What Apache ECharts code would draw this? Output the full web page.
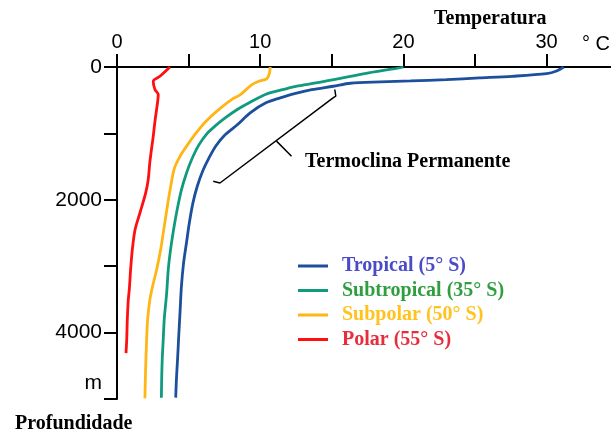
<!DOCTYPE html>
<html>
<head>
<meta charset="utf-8">
<script src="https://cdn.jsdelivr.net/npm/echarts@6/dist/echarts.min.js"></script>
<style>
  html, body { margin: 0; padding: 0; background: #fff; }
  #chart { width: 611px; height: 432px; }
</style>
</head>
<body>
<div id="chart"></div>
<script>
// perfis de temperatura: [temperatura °C, profundidade m]
var tropical = [[31.2,0],[30.7,60],[30,100],[27.6,140],[25.3,165],[23,190],[20.5,210],[18.4,225],[16.3,245],
  [15.1,290],[13.6,340],[12.4,400],[11.4,465],[10.4,540],[9.3,690],[8.4,870],[7.5,1030],[6.9,1190],[6.4,1380],
  [6.0,1560],[5.6,1800],[5.3,2050],[5.05,2350],[4.85,2650],[4.65,2950],[4.5,3300],[4.4,3700],[4.3,4100],
  [4.23,4400],[4.15,4700],[4.1,4980]];
var subtropical = [[20,0],[19.3,30],[17.4,95],[15.6,170],[13.9,240],[12.5,290],[11.3,355],[10.4,410],[9.3,530],
  [8.4,640],[7.6,760],[6.9,880],[6.3,1000],[5.7,1180],[5.2,1400],[4.85,1600],[4.5,1850],[4.2,2150],[3.95,2450],
  [3.74,2750],[3.58,3050],[3.47,3400],[3.3,3800],[3.23,4100],[3.16,4400],[3.12,4700],[3.1,4980]];
var subpolar = [[10.7,0],[10.65,90],[10.45,180],[9.9,215],[9.4,270],[8.6,420],[8.0,490],[7.0,660],[6.2,820],
  [5.5,1000],[4.9,1180],[4.4,1345],[4.0,1530],[3.75,1800],[3.55,2050],[3.3,2400],[3.05,2750],[2.77,3050],
  [2.49,3300],[2.3,3500],[2.14,3800],[2.07,4100],[2.02,4400],[1.98,4700],[1.95,4990]];
var polar = [[3.7,0],[3.0,139],[2.53,214],[2.65,339],[2.88,415],[2.84,520],[2.65,820],[2.53,1044],[2.3,1420],
  [2.18,1697],[2.0,1900],[1.6,2199],[1.26,2450],[1.07,2750],[0.95,3050],[0.86,3350],[0.79,3500],[0.72,3800],
  [0.68,4100],[0.63,4310]];

// chave da termoclina
var chave = [[15.21,339],[15.28,440],[15.09,465],[7.19,1747],[6.72,1722]];
var chaveTraco = [[11.14,1116],[12.19,1345]];

var nomes = ['Tropical (5° S)', 'Subtropical (35° S)', 'Subpolar (50° S)', 'Polar (55° S)'];
var coresLinha = ['#1c4f9c', '#109a7e', '#ffb515', '#ff1010'];
var coresTexto = ['#4b4bc8', '#2e9e3e', '#ffc21f', '#e82c3c'];
var xTicks = [0, 5, 10, 15, 20, 25, 30];
var xLabels = [0, 10, 20, 30];

var serif = '"Liberation Serif", "Times New Roman", serif';
var sans = '"Liberation Sans", Arial, sans-serif';

var myChart = echarts.init(document.getElementById('chart'));

function perfil(nome, dados, cor) {
    return {
        name: nome,
        type: 'line',
        data: dados,
        showSymbol: false,
        symbol: 'none',
        smooth: 0.3,
        lineStyle: { color: cor, width: 2.8 },
        itemStyle: { color: cor },
        silent: true,
        z: 3
    };
}

function linhaPreta(dados) {
    return {
        type: 'line',
        data: dados,
        showSymbol: false,
        symbol: 'none',
        lineStyle: { color: '#000', width: 1.5 },
        silent: true,
        z: 2
    };
}

var option = {
    animation: false,
    title: [
        { text: 'Temperatura', left: 429, top: 4, textStyle: { fontFamily: serif, fontWeight: 'bold', fontSize: 20, color: '#000' } },
        { text: '° C', left: 577, top: 29, textStyle: { fontFamily: sans, fontWeight: 'normal', fontSize: 20, color: '#000' } },
        { text: 'Profundidade', left: 10, top: 409, textStyle: { fontFamily: serif, fontWeight: 'bold', fontSize: 20, color: '#000' } },
        { text: 'Termoclina Permanente', left: 300, top: 147, textStyle: { fontFamily: serif, fontWeight: 'bold', fontSize: 20, color: '#000' } }
    ],
    legend: {
        orient: 'vertical',
        left: 293,
        top: 251,
        itemWidth: 30,
        itemHeight: 3,
        itemGap: 4.5,
        icon: 'rect',
        selectedMode: false,
        textStyle: { fontFamily: serif, fontWeight: 'bold', fontSize: 20, padding: [0, 0, 0, 9] },
        data: nomes.map(function (n, i) {
            return { name: n, textStyle: { color: coresTexto[i] } };
        })
    },
    grid: { left: 117, top: 67, right: 0, bottom: 33, containLabel: false },
    xAxis: {
        type: 'value',
        position: 'top',
        min: 0,
        max: 34.5,
        splitLine: { show: false },
        axisLine: { lineStyle: { color: '#000', width: 2 } },
        axisTick: { show: true, length: 13, customValues: xTicks, lineStyle: { color: '#000', width: 2 } },
        axisLabel: { customValues: xLabels, margin: 15, fontFamily: sans, fontSize: 20, color: '#000' }
    },
    yAxis: {
        type: 'value',
        inverse: true,
        min: 0,
        max: 5000,
        interval: 1000,
        splitLine: { show: false },
        axisLine: { show: true, lineStyle: { color: '#000', width: 2 } },
        axisTick: { show: true, length: 13, lineStyle: { color: '#000', width: 2 } },
        axisLabel: {
            margin: 15,
            fontFamily: sans,
            fontSize: 21,
            color: '#000',
            showMaxLabel: true,
            formatter: function (v) {
                if (v === 5000) return '{m|m}';
                return v % 2000 === 0 ? String(v) : '';
            },
            rich: {
                m: { fontFamily: sans, fontSize: 21, color: '#000', padding: [0, 0, 32, 0] }
            }
        }
    },
    series: [
        perfil(nomes[0], tropical, coresLinha[0]),
        perfil(nomes[1], subtropical, coresLinha[1]),
        perfil(nomes[2], subpolar, coresLinha[2]),
        perfil(nomes[3], polar, coresLinha[3]),
        linhaPreta(chave),
        linhaPreta(chaveTraco)
    ]
};
myChart.setOption(option);
</script>
</body>
</html>
